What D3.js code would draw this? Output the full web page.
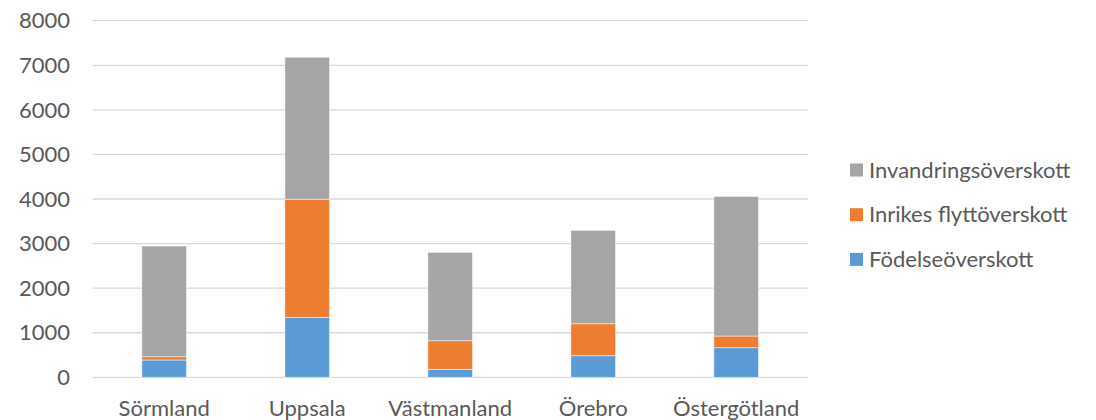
<!DOCTYPE html>
<html><head><meta charset="utf-8">
<script src="https://cdn.jsdelivr.net/npm/d3@7"></script>
<style>body{margin:0;background:#fff}svg{display:block}text{font-family:Lato,"Open Sans",sans-serif;fill:#595959}</style>
</head><body><svg id="c" width="1096" height="420"></svg>
<script>
const categories = ["Sörmland","Uppsala","Västmanland","Örebro","Östergötland"];
const fodelse = [388,1345,179,484,664];
const inrikes = [74,2650,642,718,262];
const invandring = [2482,3185,1982,2094,3132];
const seriesNames = ["Födelseöverskott","Inrikes flyttöverskott","Invandringsöverskott"];
const seriesColors = ["#5B9BD5","#ED7D31","#A5A5A5"];
const yTicks = [0,1000,2000,3000,4000,5000,6000,7000,8000];

const svg = d3.select("#c");
const x = d3.scaleBand().domain(categories).range([92.7,807.7]).padding(0);
const y = d3.scaleLinear().domain([0,8000]).range([377.3,20.7]);
const fs = 22;

// gridlines
svg.append("g").selectAll("line").data(yTicks).join("line")
  .attr("x1",x.range()[0]).attr("x2",x.range()[1])
  .attr("y1",d=>y(d)).attr("y2",d=>y(d))
  .attr("stroke","#D9D9D9").attr("stroke-width",1.3);

// y labels
svg.append("g").selectAll("text").data(yTicks).join("text")
  .attr("x",70).attr("y",d=>y(d)).attr("dy","0.35em")
  .attr("text-anchor","end").attr("font-size",fs).text(d=>d);

// stacked bars
const rows = categories.map((c,i)=>({cat:c, s0:fodelse[i], s1:inrikes[i], s2:invandring[i]}));
const stack = d3.stack().keys(["s0","s1","s2"])(rows);
const bw = x.bandwidth()*0.312;
svg.append("g").selectAll("g").data(stack).join("g")
  .attr("fill",(d,i)=>seriesColors[i])
  .selectAll("rect").data(d=>d).join("rect")
  .attr("x",d=>x(d.data.cat)+x.bandwidth()/2-bw/2)
  .attr("width",bw)
  .attr("y",d=>y(d[1])).attr("height",d=>y(d[0])-y(d[1]))
  .attr("stroke","#fff").attr("stroke-opacity",0.6).attr("stroke-width",0.8);

// x labels
svg.append("g").selectAll("text").data(categories).join("text")
  .attr("x",d=>x(d)+x.bandwidth()/2).attr("y",416)
  .attr("text-anchor","middle").attr("font-size",fs).text(d=>d);

// legend
const legOrder = [2,1,0];
const leg = svg.append("g").selectAll("g").data(legOrder).join("g")
  .attr("transform",(d,i)=>`translate(850,${170+i*44.7})`);
leg.append("rect").attr("x",0).attr("y",-6.5).attr("width",13).attr("height",13).attr("fill",d=>seriesColors[d]);
leg.append("text").attr("x",19).attr("y",0).attr("dy","0.35em").attr("font-size",fs).text(d=>seriesNames[d]);
</script></body></html>
